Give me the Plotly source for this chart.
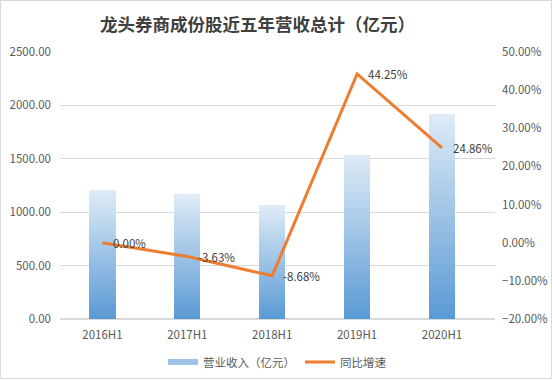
import plotly.graph_objects as go

categories = ["2016H1", "2017H1", "2018H1", "2019H1", "2020H1"]
revenue = [1208, 1166, 1064, 1537, 1922]
growth = [0.0, -0.0363, -0.0868, 0.4425, 0.2486]
growth_labels = ["0.00%", "-3.63%", "-8.68%", "44.25%", "24.86%"]

title_text = "龙头券商成份股近五年营收总计（亿元）"
bar_name = "营业收入（亿元）"
line_name = "同比增速"

W, H = 552, 381
ML, MR, MT, MB = 60, 57, 52, 62
PW, PH = W - ML - MR, H - MT - MB

FONT = "Microsoft YaHei, Noto Sans CJK SC, sans-serif"

top_rgb = (222, 234, 246)
bot_rgb = (91, 155, 213)
N = 40

fig = go.Figure()
for k in range(N):
    t = k / (N - 1)
    c = tuple(round(bot_rgb[i] + (top_rgb[i] - bot_rgb[i]) * t) for i in range(3))
    fig.add_trace(go.Bar(
        x=categories, y=[v / N for v in revenue],
        marker=dict(color="rgb(%d,%d,%d)" % c, line=dict(width=0)),
        width=0.31, showlegend=False, hoverinfo="skip", yaxis="y",
    ))

fig.add_trace(go.Scatter(
    x=[None], y=[None], name=bar_name, mode="lines",
    line=dict(color="#9DC3E6", width=6), showlegend=True,
))

fig.add_trace(go.Scatter(
    x=categories, y=growth, name=line_name, yaxis="y2",
    mode="lines", line=dict(color="#ED7D31", width=3),
))

for cat, g, lab in zip(categories, growth, growth_labels):
    fig.add_annotation(x=cat, y=g, xref="x", yref="y2", text=lab, showarrow=False,
                       xanchor="left", yanchor="middle", xshift=9,
                       font=dict(size=11.5, color="#404040", family=FONT))

fig.update_layout(
    width=W, height=H,
    margin=dict(l=ML, r=MR, t=MT, b=MB, autoexpand=False),
    paper_bgcolor="white", plot_bgcolor="white",
    barmode="stack", bargap=0.69,
    font=dict(family=FONT, size=11, color="#595959"),
    title=dict(text=title_text, x=257.5 / W, xanchor="center", y=1 - 25 / H, yanchor="middle",
               font=dict(size=17.5, color="#404040", family=FONT, weight="bold")),
    xaxis=dict(showgrid=False, showline=False, ticks="", ticklabelstandoff=7,
               tickfont=dict(size=11.5, color="#595959")),
    yaxis=dict(range=[0, 2500], dtick=500, tickformat=".2f", showgrid=True,
               gridcolor="#D9D9D9", gridwidth=1, zeroline=True, zerolinecolor="#D9D9D9",
               showline=False, ticks="", ticklabelstandoff=8,
               tickfont=dict(size=11.5, color="#595959")),
    yaxis2=dict(range=[-0.2, 0.5], dtick=0.1, tickformat=".2%", overlaying="y", side="right",
                showgrid=False, zeroline=False, showline=False, ticks="", ticklabelstandoff=6,
                tickfont=dict(size=11.5, color="#595959")),
    legend=dict(orientation="h", x=0.5, xanchor="center", yref="container",
                y=1 - 362 / H, yanchor="middle",
                font=dict(size=11.5, color="#595959"), traceorder="normal"),
    showlegend=True,
)

fig.add_shape(type="rect", xref="paper", yref="paper",
              x0=-(ML - 0.5) / PW, x1=1 + (MR - 0.5) / PW,
              y0=-(MB - 2.5) / PH, y1=1 + (MT - 0.5) / PH,
              line=dict(color="#D9D9D9", width=1), fillcolor="rgba(0,0,0,0)", layer="below")

fig.write_html("out.html", config={"displayModeBar": False},
               post_script="document.body.style.margin='0';document.body.style.overflow='hidden';")
